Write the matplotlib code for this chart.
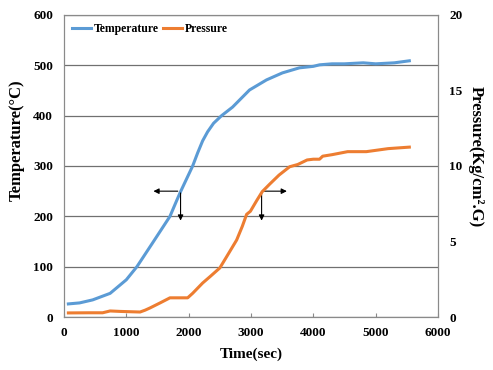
import matplotlib
matplotlib.use("Agg")
import matplotlib.pyplot as plt

# Temperature (deg C) vs time (sec)
temp_t = [70, 250, 460, 740, 1000, 1170, 1420, 1700, 1810, 1870, 2064, 2144, 2224,
          2304, 2400, 2528, 2704, 2976, 3248, 3504, 3776, 4000, 4100, 4300, 4500,
          4800, 5000, 5300, 5540]
temp_v = [26, 28, 34, 47, 74, 100, 147, 200, 232, 249, 300, 326, 350,
          368, 385, 400, 417, 451, 471, 485, 495, 498, 501, 503, 503,
          505, 503, 505, 509]

# Pressure (Kg/cm2.G) vs time (sec)
pres_t = [70, 400, 620, 740, 900, 1220, 1300, 1380, 1540, 1700, 1984, 2064, 2224,
          2350, 2500, 2610, 2770, 2860, 2930, 2990, 3090, 3180, 3300, 3450, 3620,
          3750, 3900, 4000, 4100, 4150, 4300, 4550, 4850, 5200, 5540]
pres_v = [0.27, 0.28, 0.28, 0.4, 0.37, 0.33, 0.45, 0.6, 0.93, 1.27, 1.27, 1.57, 2.25,
          2.7, 3.25, 4.0, 5.1, 6.0, 6.8, 7.0, 7.7, 8.3, 8.8, 9.4, 9.95,
          10.1, 10.4, 10.45, 10.45, 10.65, 10.75, 10.95, 10.95, 11.15, 11.25]

blue = "#5B9BD5"
orange = "#ED7D31"
plt.rcParams['font.family'] = ['Liberation Serif', 'DejaVu Serif']
plt.rcParams['font.weight'] = 'bold'

fig = plt.figure(figsize=(4.93, 3.7), dpi=100)
ax = fig.add_axes([64/493, 1 - 317/370, (438-64)/493, (317-15)/370])
ax2 = ax.twinx()

l1, = ax.plot(temp_t, temp_v, color=blue, lw=2.2, label="Temperature")
l2, = ax2.plot(pres_t, pres_v, color=orange, lw=2.2, label="Pressure")

ax.set_xlim(0, 6000)
ax.set_ylim(0, 600)
ax2.set_ylim(0, 20)
ax.set_xticks(range(0, 6001, 1000))
ax.set_yticks(range(0, 601, 100))
ax2.set_yticks(range(0, 21, 5))
ax.grid(axis='y', color='#707070', lw=0.9)
ax.set_axisbelow(True)

for a in (ax, ax2):
    for s in a.spines.values():
        s.set_color('#8a8a8a')
ax.tick_params(axis='x', direction='in', length=3, color='#8a8a8a', labelsize=9.5, pad=7)
ax.tick_params(axis='y', length=0, labelsize=9.5, pad=8)
ax2.tick_params(axis='y', length=0, labelsize=9.5, pad=8)

ax.set_xlabel("Time(sec)", fontsize=11, fontweight='bold')
ax.xaxis.set_label_coords(0.5, -0.1)
ax.set_ylabel("Temperature(\u00b0C)", fontsize=12, fontweight='bold')
ax.yaxis.set_label_coords(-0.105, 0.585)
ax2.set_ylabel("Pressure(Kg/cm\u00b2.G)", fontsize=12, fontweight='bold', rotation=270,
               va='center')
ax2.yaxis.set_label_coords(1.1, 0.53)

ax.legend(handles=[l1, l2], loc='upper left', ncol=2, frameon=False,
          fontsize=8.5, handlelength=1.6, handletextpad=0.2, columnspacing=0.4,
          bbox_to_anchor=(0.0, 1.0), borderaxespad=0.3)

arrow = dict(arrowstyle='-|>', color='black', lw=0.8, mutation_scale=8)
ax.annotate("", xy=(1390, 250), xytext=(1870, 250), arrowprops=arrow)
ax.annotate("", xy=(1870, 186), xytext=(1870, 252), arrowprops=arrow)
ax.annotate("", xy=(3620, 250), xytext=(3170, 250), arrowprops=arrow)
ax.annotate("", xy=(3170, 186), xytext=(3170, 252), arrowprops=arrow)

fig.savefig("out.png", dpi=100)
